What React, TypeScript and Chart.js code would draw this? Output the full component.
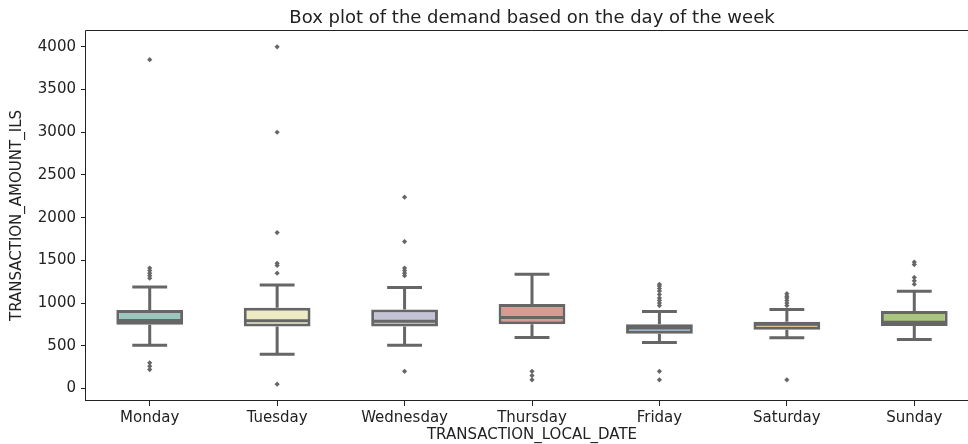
import { useEffect, useRef } from 'react';
import { Chart, registerables } from 'chart.js';

Chart.register(...registerables);

// Day-of-week categories
const days = ['Monday', 'Tuesday', 'Wednesday', 'Thursday', 'Friday', 'Saturday', 'Sunday'];

// Box statistics per day (TRANSACTION_AMOUNT_ILS)
const q1 = [745, 726, 726, 750, 641, 688, 731];
const median = [795, 791, 787, 830, 709, 752, 775];
const q3 = [918, 945, 925, 988, 750, 781, 906];
const whiskerLow = [506, 401, 506, 596, 538, 592, 573];
const whiskerHigh = [1188, 1212, 1181, 1337, 900, 924, 1138];

// Points beyond the whiskers
const mondayOutliers = [3850, 1410, 1380, 1350, 1320, 1290, 300, 260, 220];
const tuesdayOutliers = [4000, 3000, 1825, 1465, 1440, 1350, 50];
const wednesdayOutliers = [2240, 1720, 1410, 1380, 1350, 1320, 200];
const thursdayOutliers = [200, 150, 100];
const fridayOutliers = [1220, 1200, 1170, 1140, 1100, 1060, 1030, 1000, 970, 200, 100];
const saturdayOutliers = [1110, 1080, 1060, 1030, 1000, 970, 100];
const sundayOutliers = [1480, 1450, 1300, 1260, 1220];

const outliersByDay = [
  mondayOutliers,
  tuesdayOutliers,
  wednesdayOutliers,
  thursdayOutliers,
  fridayOutliers,
  saturdayOutliers,
  sundayOutliers,
];

// Y axis tick values
const yTicks = [0, 500, 1000, 1500, 2000, 2500, 3000, 3500, 4000];

const chartTitle = 'Box plot of the demand based on the day of the week';

// Muted Set3 colours for the boxes
const boxFill = ['#9ac6bd', '#ecebc4', '#c4c2d6', '#dc9992', '#8caac4', '#e2b480', '#a8c67c'];
const lineGray = '#666666';
const textColor = '#222222';
const fontFamily = "'DejaVu Sans', sans-serif";

// Whiskers, caps and median lines drawn on top of the IQR bars
const boxWhiskers = {
  id: 'boxWhiskers',
  afterDatasetsDraw(chart: any) {
    const { ctx } = chart;
    const x = chart.scales.x;
    const y = chart.scales.y;
    const bin = x.getPixelForValue(1) - x.getPixelForValue(0);
    ctx.save();
    ctx.strokeStyle = lineGray;
    ctx.lineWidth = 3;
    days.forEach((_, i) => {
      const cx = x.getPixelForValue(i);
      // vertical whisker segments
      ctx.lineCap = 'butt';
      ctx.beginPath();
      ctx.moveTo(cx, y.getPixelForValue(q3[i]));
      ctx.lineTo(cx, y.getPixelForValue(whiskerHigh[i]));
      ctx.moveTo(cx, y.getPixelForValue(q1[i]));
      ctx.lineTo(cx, y.getPixelForValue(whiskerLow[i]));
      ctx.stroke();
      // caps
      ctx.lineCap = 'square';
      ctx.beginPath();
      const capHalf = bin * 0.125;
      ctx.moveTo(cx - capHalf, y.getPixelForValue(whiskerHigh[i]));
      ctx.lineTo(cx + capHalf, y.getPixelForValue(whiskerHigh[i]));
      ctx.moveTo(cx - capHalf, y.getPixelForValue(whiskerLow[i]));
      ctx.lineTo(cx + capHalf, y.getPixelForValue(whiskerLow[i]));
      ctx.stroke();
      // median
      ctx.lineCap = 'butt';
      ctx.beginPath();
      const boxHalf = bin * 0.25;
      ctx.moveTo(cx - boxHalf, y.getPixelForValue(median[i]));
      ctx.lineTo(cx + boxHalf, y.getPixelForValue(median[i]));
      ctx.stroke();
    });
    ctx.restore();
  },
};

// Axes frame (left, bottom, top spines) and the title centred over the plot area
const frameAndTitle = {
  id: 'frameAndTitle',
  afterDraw(chart: any) {
    const { ctx, chartArea } = chart;
    const { left, right, top, bottom } = chartArea;
    ctx.save();
    ctx.strokeStyle = textColor;
    ctx.lineWidth = 1;
    ctx.lineCap = 'butt';
    const xl = Math.round(left) - 0.5;
    const yt = Math.round(top) + 0.5;
    const yb = Math.round(bottom) - 0.5;
    ctx.beginPath();
    ctx.moveTo(xl, yt);
    ctx.lineTo(right, yt);
    ctx.moveTo(xl, yt);
    ctx.lineTo(xl, yb + 0.5);
    ctx.moveTo(xl - 0.5, yb);
    ctx.lineTo(right, yb);
    ctx.stroke();

    ctx.fillStyle = textColor;
    ctx.font = `18px ${fontFamily}`;
    ctx.textAlign = 'center';
    ctx.textBaseline = 'alphabetic';
    ctx.fillText(chartTitle, (left + right) / 2, 23);
    ctx.restore();
  },
};

export default function App() {
  const canvasRef = useRef<HTMLCanvasElement | null>(null);

  useEffect(() => {
    const canvas = canvasRef.current;
    if (!canvas) return;

    const outlierPoints: { x: string; y: number }[] = [];
    outliersByDay.forEach((vals, i) => {
      vals.forEach((v) => outlierPoints.push({ x: days[i], y: v }));
    });

    const chart = new Chart(canvas, {
      type: 'bar',
      data: {
        labels: days,
        datasets: [
          {
            type: 'scatter',
            data: outlierPoints,
            pointStyle: 'rectRot',
            pointRadius: 2.6,
            pointHoverRadius: 2.6,
            pointBackgroundColor: lineGray,
            pointBorderColor: lineGray,
            pointBorderWidth: 0,
          } as any,
          {
            type: 'bar',
            data: days.map((_, i) => [q1[i], q3[i]]),
            backgroundColor: boxFill,
            borderColor: lineGray,
            borderWidth: 3,
            borderSkipped: false,
            barPercentage: 0.524,
            categoryPercentage: 1,
          } as any,
        ],
      },
      options: {
        responsive: false,
        animation: false,
        layout: { padding: { top: 30, left: 0, right: 0, bottom: 0 }, autoPadding: false },
        plugins: {
          legend: { display: false },
          tooltip: { enabled: false },
          title: { display: false },
        },
        scales: {
          x: {
            type: 'category',
            offset: true,
            grid: {
              display: true,
              drawOnChartArea: false,
              drawTicks: true,
              tickLength: 5,
              color: textColor,
              offset: false,
            },
            border: { display: false },
            ticks: {
              color: textColor,
              font: { family: fontFamily, size: 15 },
              padding: 3,
              maxRotation: 0,
              autoSkip: false,
            },
            title: {
              display: true,
              text: 'TRANSACTION_LOCAL_DATE',
              color: textColor,
              font: { family: fontFamily, size: 15, lineHeight: 1 },
              padding: { top: 0, bottom: 1 },
            },
            afterFit(scale: any) {
              scale.height = 43;
            },
          },
          y: {
            type: 'linear',
            min: -147.5,
            max: 4197.5,
            afterBuildTicks(scale: any) {
              scale.ticks = yTicks.map((v) => ({ value: v }));
            },
            grid: {
              display: true,
              drawOnChartArea: false,
              drawTicks: true,
              tickLength: 5,
              color: textColor,
            },
            border: { display: false },
            ticks: {
              color: textColor,
              font: { family: fontFamily, size: 15 },
              padding: 5,
              callback: (value: any) => String(value),
            },
            title: {
              display: true,
              text: 'TRANSACTION_AMOUNT_ILS',
              color: textColor,
              font: { family: fontFamily, size: 15 },
              padding: { top: 8, bottom: 0 },
            },
            afterFit(scale: any) {
              scale.width = 86;
            },
          },
        },
      } as any,
      plugins: [boxWhiskers, frameAndTitle],
    });

    return () => chart.destroy();
  }, []);

  return (
    <div
      style={{
        position: 'fixed',
        left: 0,
        top: 0,
        width: 968,
        height: 444,
        overflow: 'hidden',
        background: '#ffffff',
      }}
    >
      <canvas ref={canvasRef} width={978} height={444} style={{ display: 'block' }} />
    </div>
  );
}
